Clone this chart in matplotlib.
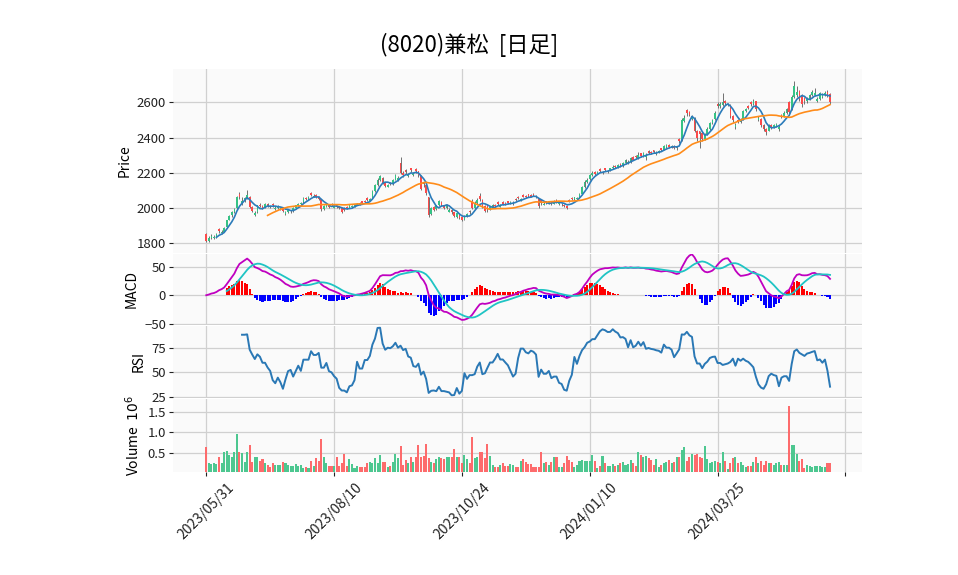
import matplotlib
matplotlib.use("Agg")
import matplotlib.pyplot as plt
import numpy as np
import pandas as pd

plt.rcParams['font.family'] = ['Noto Sans CJK JP', 'DejaVu Sans']

title = "(8020)兼松  [日足]"
tick_idx = [0, 50, 100, 150, 200, 250]
tick_lab = ["2023/05/31", "2023/08/10", "2023/10/24", "2024/01/10", "2024/03/25", ""]

close = [1815,1830,1840,1835,1850,1870,1865,1885,1930,1955,
         1975,1995,2060,2065,2040,2055,2075,2005,1985,1970,
         2015,2010,2000,2025,2010,2005,2015,2000,2010,2000,
         1985,1975,1990,1980,2000,2015,2025,2030,2055,2050,
         2060,2075,2070,2060,2050,1995,2010,2020,2005,2015,
         2010,2005,2000,1980,1990,2000,2015,2010,2020,2025,
         2020,2030,2035,2045,2050,2095,2130,2160,2180,2140,
         2125,2130,2135,2160,2185,2170,2200,2185,2205,2190,
         2215,2195,2210,2185,2110,2135,2085,1960,2000,1990,
         2015,2040,2015,2000,2020,1990,1975,1955,1970,1945,
         1935,1955,1965,1975,2000,2030,2045,2050,2010,1985,
         2000,2005,2020,2010,2025,2015,2025,2020,2030,2035,
         2030,2045,2055,2050,2065,2060,2070,2065,2075,2060,
         2010,2030,2025,2030,2035,2025,2040,2035,2030,2020,
         2010,2000,2040,2050,2060,2055,2080,2120,2150,2160,
         2190,2200,2195,2205,2210,2205,2215,2212,2225,2235,
         2232,2245,2242,2255,2270,2260,2285,2275,2290,2300,
         2295,2310,2300,2315,2310,2320,2315,2325,2330,2350,
         2355,2345,2350,2340,2345,2380,2500,2510,2540,2530,
         2520,2440,2400,2420,2390,2420,2450,2480,2500,2540,
         2580,2590,2600,2595,2590,2520,2500,2470,2490,2500,
         2550,2560,2570,2590,2610,2560,2510,2470,2450,2430,
         2470,2460,2470,2475,2460,2520,2540,2560,2545,2630,
         2690,2660,2620,2590,2610,2620,2640,2660,2650,2620,
         2650,2640,2650,2640,2600]

open_ = [1855,1815,1830,1828,1838,1880,1858,1866,1890,1935,
         1958,1978,2000,2080,2030,2040,2055,2065,2005,1960,
         1975,2020,2012,2002,2025,2012,2022,1992,2000,1995,
         2000,1968,1978,1975,1985,2002,2015,2022,2032,2058,
         2050,2085,2065,2072,2062,2050,1995,2008,2018,2022,
         2003,2015,2008,1998,2000,2008,2000,2005,2012,2018,
         2028,2038,2042,2055,2042,2055,2095,2130,2160,2170,
         2142,2122,2145,2135,2162,2160,2255,2200,2215,2182,
         2225,2185,2222,2208,2180,2145,2130,2060,1965,2005,
         1995,2015,2035,2015,2000,1980,1990,1975,1950,1965,
         1948,1935,1955,1985,2040,2000,2030,2070,2048,2010,
         2015,1995,2005,2020,2032,2008,2032,2028,2038,2028,
         2025,2052,2062,2042,2075,2070,2078,2072,2082,2070,
         2055,2045,2020,2038,2028,2035,2025,2045,2025,2015,
         2020,2012,2048,2058,2050,2050,2058,2082,2120,2150,
         2165,2185,2205,2195,2220,2198,2225,2205,2212,2225,
         2240,2232,2250,2240,2255,2255,2262,2290,2298,2285,
         2310,2295,2290,2325,2320,2328,2305,2315,2338,2332,
         2345,2360,2342,2352,2338,2390,2385,2495,2555,2545,
         2505,2510,2440,2435,2425,2390,2420,2450,2480,2505,
         2590,2578,2585,2610,2585,2585,2525,2460,2500,2490,
         2505,2550,2580,2600,2590,2605,2500,2505,2470,2450,
         2440,2470,2460,2465,2450,2530,2522,2540,2600,2560,
         2630,2640,2665,2640,2625,2605,2620,2640,2640,2610,
         2620,2630,2640,2660,2645]

high = [1860,1840,1850,1848,1858,1888,1875,1890,1935,1962,
        1982,2000,2068,2090,2060,2065,2100,2070,2010,1985,
        2020,2030,2018,2030,2028,2018,2028,2010,2015,2008,
        2005,1985,1995,1990,2005,2020,2030,2035,2060,2065,
        2068,2092,2080,2078,2066,2052,2018,2025,2022,2028,
        2015,2020,2012,2000,2005,2012,2020,2018,2025,2030,
        2032,2042,2048,2060,2058,2100,2135,2168,2190,2175,
        2148,2138,2150,2165,2192,2180,2290,2210,2220,2200,
        2230,2205,2228,2212,2185,2150,2135,2065,2008,2012,
        2020,2048,2040,2020,2025,2000,1995,1978,1975,1970,
        1952,1960,1970,1990,2050,2040,2055,2085,2052,2015,
        2020,2012,2025,2025,2038,2022,2038,2032,2042,2040,
        2038,2058,2068,2058,2080,2075,2082,2078,2088,2075,
        2058,2050,2032,2042,2040,2040,2045,2050,2038,2028,
        2025,2015,2052,2062,2065,2062,2085,2125,2158,2170,
        2195,2210,2212,2210,2225,2208,2230,2218,2230,2242,
        2245,2250,2255,2260,2278,2270,2290,2295,2302,2320,
        2315,2318,2310,2330,2325,2332,2322,2330,2342,2355,
        2362,2365,2356,2356,2352,2395,2510,2530,2560,2550,
        2530,2515,2445,2440,2430,2428,2458,2488,2505,2548,
        2600,2600,2650,2615,2598,2590,2530,2480,2505,2510,
        2555,2568,2585,2605,2620,2610,2525,2510,2475,2455,
        2478,2475,2478,2480,2470,2535,2548,2565,2610,2640,
        2720,2690,2670,2645,2630,2630,2648,2668,2680,2630,
        2660,2650,2665,2668,2650]

low = [1805,1805,1825,1822,1832,1860,1852,1862,1885,1930,
       1950,1972,1995,2050,2020,2035,2050,2000,1975,1955,
       1970,2005,1995,2000,2005,2000,2008,1988,1995,1990,
       1980,1962,1972,1970,1980,1998,2010,2018,2030,2045,
       2048,2068,2060,2055,2045,1985,1990,2005,2000,2010,
       2000,2000,1995,1972,1982,1995,1998,2000,2008,2015,
       2015,2025,2030,2040,2040,2050,2090,2125,2155,2135,
       2120,2118,2128,2130,2158,2152,2195,2178,2195,2175,
       2205,2180,2200,2178,2100,2120,2075,1950,1960,1985,
       1990,2010,2010,1995,1995,1975,1968,1948,1945,1938,
       1925,1930,1950,1968,1995,1995,2025,2040,2000,1975,
       1980,1990,2000,2005,2018,2005,2020,2015,2025,2025,
       2020,2040,2050,2040,2060,2055,2065,2060,2070,2055,
       2000,2020,2015,2025,2025,2020,2022,2030,2020,2010,
       2005,1995,2035,2045,2048,2045,2055,2078,2115,2145,
       2160,2180,2190,2192,2205,2195,2208,2200,2208,2220,
       2225,2228,2235,2235,2250,2250,2258,2270,2282,2280,
       2290,2290,2275,2308,2305,2312,2300,2310,2325,2328,
       2340,2340,2338,2335,2332,2370,2380,2490,2520,2520,
       2500,2430,2380,2340,2380,2385,2415,2445,2475,2500,
       2565,2570,2580,2585,2580,2510,2490,2450,2480,2485,
       2500,2545,2560,2580,2585,2550,2495,2460,2440,2415,
       2435,2450,2455,2460,2440,2510,2518,2535,2530,2555,
       2625,2630,2610,2575,2590,2598,2615,2635,2635,2600,
       2615,2625,2635,2632,2592]

volume = [0.66,0.27,0.23,0.27,0.23,0.42,0.27,0.54,0.56,0.46,
          0.40,0.52,0.95,0.54,0.50,0.28,0.54,0.69,0.30,0.40,
          0.40,0.32,0.35,0.26,0.22,0.18,0.26,0.22,0.22,0.22,
          0.30,0.27,0.22,0.19,0.19,0.23,0.19,0.22,0.14,0.18,
          0.14,0.32,0.19,0.38,0.31,0.85,0.40,0.26,0.19,0.19,
          0.19,0.40,0.19,0.27,0.48,0.19,0.37,0.23,0.14,0.19,
          0.18,0.18,0.18,0.27,0.30,0.27,0.38,0.27,0.46,0.30,
          0.30,0.16,0.19,0.30,0.48,0.38,0.68,0.22,0.34,0.26,
          0.42,0.30,0.40,0.70,0.42,0.44,0.73,0.38,0.30,0.26,
          0.35,0.42,0.38,0.35,0.42,0.42,0.42,0.60,0.42,0.40,
          0.27,0.46,0.35,0.27,0.90,0.38,0.42,0.52,0.52,0.38,
          0.73,0.44,0.22,0.18,0.18,0.22,0.27,0.20,0.20,0.24,
          0.22,0.18,0.18,0.32,0.35,0.30,0.23,0.24,0.18,0.18,
          0.16,0.52,0.26,0.30,0.22,0.30,0.42,0.42,0.18,0.18,
          0.26,0.44,0.34,0.30,0.16,0.22,0.32,0.34,0.32,0.32,
          0.32,0.46,0.32,0.14,0.20,0.44,0.27,0.20,0.20,0.24,
          0.20,0.22,0.27,0.30,0.22,0.24,0.34,0.27,0.20,0.54,
          0.46,0.42,0.44,0.38,0.34,0.22,0.37,0.18,0.22,0.27,
          0.30,0.34,0.27,0.30,0.40,0.40,0.57,0.64,0.32,0.40,
          0.48,0.46,0.48,0.42,0.38,0.68,0.35,0.27,0.30,0.32,
          0.30,0.26,0.54,0.32,0.11,0.27,0.38,0.42,0.27,0.30,
          0.22,0.18,0.20,0.19,0.30,0.42,0.27,0.32,0.22,0.32,
          0.27,0.27,0.22,0.27,0.30,0.22,0.22,0.22,1.63,0.70,
          0.70,0.48,0.31,0.37,0.15,0.22,0.20,0.18,0.20,0.20,
          0.20,0.18,0.16,0.26,0.27]

df = pd.DataFrame({"Open": open_, "High": high, "Low": low,
                   "Close": close, "Volume": volume})
n = len(df)
x = np.arange(n)

# indicators
ma5 = df.Close.rolling(5).mean()
ma25 = df.Close.rolling(25).mean()
ema12 = df.Close.ewm(span=12, adjust=False).mean()
ema26 = df.Close.ewm(span=26, adjust=False).mean()
macd = ema12 - ema26
signal = macd.rolling(9).mean()
hist = macd - signal
delta = df.Close.diff()
gain = delta.clip(lower=0).rolling(14).mean()
loss = (-delta.clip(upper=0)).rolling(14).mean()
rsi = 100 - 100 / (1 + gain / loss)

up = df.Close >= df.Open
c_up, c_dn = '#35c285', '#fb4a4a'
v_up, v_dn = '#4dc790', '#fd6b6c'

fig = plt.figure(figsize=(9.58, 5.75), dpi=100)
L, W = 173/958, 689/958
def mk(top, bot):
    return fig.add_axes([L, 1-bot/575, W, (bot-top)/575])
ax1 = mk(69, 253)
ax2 = mk(254, 325)
ax3 = mk(326, 398)
ax4 = mk(399, 472)

for ax in (ax1, ax2, ax3, ax4):
    ax.set_facecolor('#fafafa')
    ax.grid(True, color='#d0d0d0', lw=0.9)
    ax.set_axisbelow(True)
    for s in ax.spines.values():
        s.set_visible(False)
    ax.set_xlim(-13, 256.5)
    ax.set_xticks(tick_idx)
    ax.tick_params(axis='y', labelsize=9.5, length=3, pad=2, colors='#222222')
    if ax is not ax4:
        ax.tick_params(axis='x', length=0, labelbottom=False)

# candles
ax1.vlines(x, df.Low, df.High, color='#707070', lw=0.7, zorder=2)
body_b = np.minimum(df.Open, df.Close)
body_h = np.maximum(np.abs(df.Close - df.Open), 1.5)
ax1.bar(x, body_h, bottom=body_b, width=0.65,
        color=np.where(up, c_up, c_dn), zorder=3, linewidth=0)
ax1.plot(x, ma5, color='#2b7bba', lw=1.2, zorder=4)
ax1.plot(x, ma25, color='#ff8c1a', lw=1.2, zorder=4)
ax1.set_ylim(1745, 2789)
ax1.set_yticks([1800, 2000, 2200, 2400, 2600])
ax1.set_ylabel("Price", fontsize=10)

# MACD
ax2.bar(x, hist, width=0.8, color=np.where(hist >= 0, '#ff0000', '#0000ff'), zorder=2)
ax2.plot(x, macd, color='#c000c0', lw=1.3, zorder=3)
ax2.plot(x, signal, color='#1fc4c4', lw=1.3, zorder=3)
ax2.set_ylim(-52, 72)
ax2.set_yticks([-50, 0, 50])
ax2.set_yticklabels(['\u221250', '0', '50'])
ax2.set_ylabel("MACD", fontsize=10)

# RSI
ax3.plot(x, rsi, color='#2a78b5', lw=1.4)
ax3.set_ylim(24, 97)
ax3.set_yticks([25, 50, 75])
ax3.set_ylabel("RSI", fontsize=10)

# Volume
ax4.bar(x, df.Volume, width=0.8, color=np.where(up, v_up, v_dn), zorder=2)
ax4.set_ylim(0.05, 1.80)
ax4.set_yticks([0.5, 1.0, 1.5])
ax4.set_ylabel("Volume  $10^{6}$", fontsize=10)
ax4.set_xticklabels(tick_lab, rotation=45, fontsize=10)
ax4.tick_params(axis='x', length=3, colors='#222222')

fig.text(469/958, 1-45/575, title, ha='center', va='center', fontsize=16)

fig.savefig("out.png", dpi=100, facecolor='white')
